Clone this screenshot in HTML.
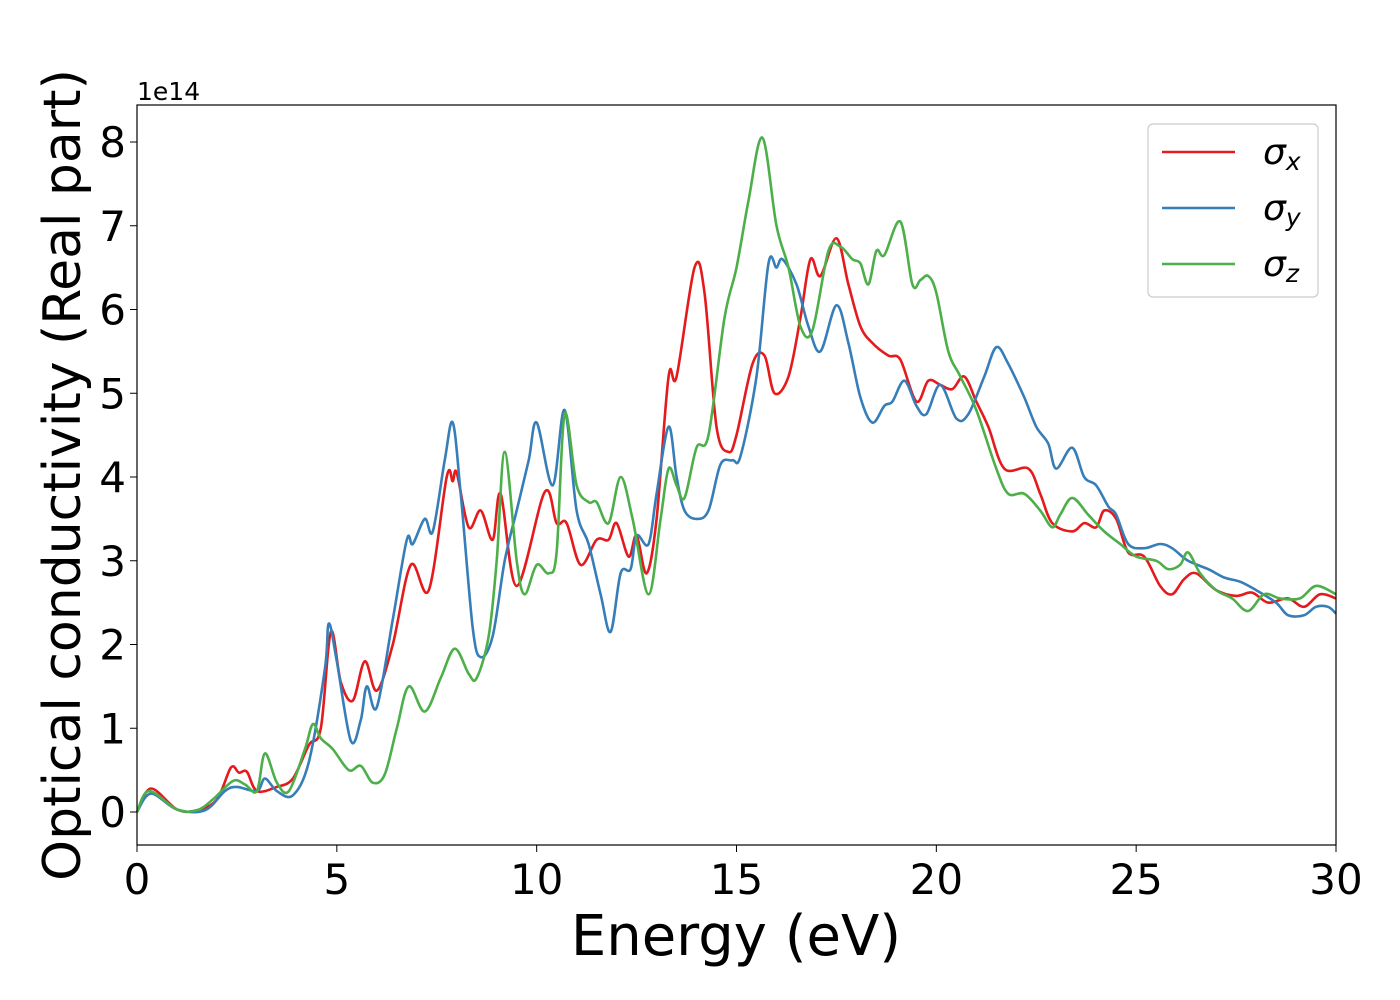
<!DOCTYPE html>
<html><head><meta charset="utf-8"><style>
html,body{margin:0;padding:0;background:#fff;}
svg{display:block;font-family:"DejaVu Sans","Liberation Sans",sans-serif;}
</style></head><body>
<svg id="chart" width="1400" height="1000" viewBox="0 0 1400 1000" xmlns="http://www.w3.org/2000/svg">
<g id="axes"></g>
<g id="series"></g>
<rect x="137" y="105" width="1199" height="740" fill="none" stroke="#000" stroke-width="1.2"/>
<text x="137" y="100" font-size="25">1e14</text>
<text x="736" y="955" font-size="56" text-anchor="middle">Energy (eV)</text>
<text transform="translate(80,475) rotate(-90)" font-size="52" text-anchor="middle">Optical conductivity (Real part)</text>
<g>
<rect x="1148" y="124" width="170" height="173" rx="5" fill="#fff" fill-opacity="0.8" stroke="#ccc" stroke-width="1.2"/>
<line x1="1162" y1="152" x2="1235" y2="152" stroke="#e41a1c" stroke-width="2.5"/>
<text x="1263" y="164" font-size="36" font-style="italic">σ<tspan font-size="25" dy="6">x</tspan></text>
<line x1="1162" y1="208" x2="1235" y2="208" stroke="#377eb8" stroke-width="2.5"/>
<text x="1263" y="220" font-size="36" font-style="italic">σ<tspan font-size="25" dy="6">y</tspan></text>
<line x1="1162" y1="264" x2="1235" y2="264" stroke="#4daf4a" stroke-width="2.5"/>
<text x="1263" y="276" font-size="36" font-style="italic">σ<tspan font-size="25" dy="6">z</tspan></text>
</g>
</svg>
<script>
const xTicks=[0,5,10,15,20,25,30];
const yTicks=[0,1,2,3,4,5,6,7,8];
const sxE=[0,0.35,1,1.5,2,2.35,2.55,2.75,3.0,3.5,3.9,4.3,4.6,4.85,5.1,5.4,5.7,6.0,6.4,6.85,7.3,7.75,7.9,8.0,8.3,8.6,8.9,9.1,9.5,10.2,10.5,10.75,11.1,11.5,11.8,12.0,12.3,12.5,12.75,13.0,13.3,13.5,13.95,14.2,14.5,14.8,15.0,15.4,15.7,15.95,16.3,16.6,16.85,17.1,17.5,17.8,18.1,18.4,18.8,19.1,19.5,19.8,20.1,20.4,20.7,21.0,21.3,21.7,22.3,22.6,22.9,23.4,23.7,24.0,24.2,24.5,24.8,25.2,25.6,25.9,26.2,26.5,27.0,27.5,27.9,28.3,28.8,29.2,29.6,30];
const sxV=[0,0.28,0.03,0.02,0.15,0.53,0.47,0.48,0.25,0.3,0.4,0.8,1.0,2.15,1.55,1.33,1.8,1.45,2.0,2.95,2.65,4.0,3.95,4.05,3.4,3.6,3.25,3.8,2.7,3.82,3.45,3.45,2.95,3.25,3.25,3.45,3.05,3.3,2.85,3.5,5.2,5.2,6.5,6.2,4.6,4.3,4.5,5.35,5.45,5.0,5.2,5.9,6.6,6.4,6.85,6.3,5.8,5.6,5.45,5.4,4.9,5.15,5.1,5.05,5.2,4.9,4.6,4.1,4.1,3.8,3.45,3.35,3.45,3.4,3.6,3.5,3.1,3.05,2.7,2.6,2.78,2.85,2.65,2.58,2.62,2.5,2.55,2.45,2.6,2.55];
const syE=[0,0.35,1,1.7,2.2,2.5,3.0,3.2,3.5,3.9,4.3,4.7,4.8,5.0,5.35,5.6,5.75,6.0,6.4,6.75,6.9,7.2,7.4,7.7,7.9,8.1,8.4,8.6,8.9,9.2,9.5,9.8,10.0,10.4,10.7,11.0,11.3,11.6,11.85,12.1,12.35,12.5,12.8,13.0,13.3,13.5,13.7,14.0,14.3,14.6,14.9,15.1,15.5,15.8,16.0,16.15,16.5,16.8,17.1,17.5,17.8,18.1,18.4,18.7,18.9,19.2,19.5,19.75,20.1,20.5,20.8,21.2,21.5,21.8,22.2,22.5,22.8,23.0,23.4,23.7,24.0,24.3,24.5,24.8,25.2,25.6,25.9,26.3,26.8,27.2,27.6,28.0,28.5,28.8,29.2,29.5,29.8,30];
const syV=[0,0.22,0.03,0.02,0.25,0.3,0.25,0.4,0.25,0.2,0.6,1.7,2.25,1.8,0.85,1.1,1.5,1.25,2.3,3.25,3.2,3.5,3.35,4.2,4.65,3.8,2.2,1.85,2.1,3.0,3.6,4.2,4.65,3.9,4.8,3.6,3.2,2.6,2.15,2.85,2.9,3.3,3.2,3.8,4.6,4.0,3.6,3.5,3.6,4.15,4.2,4.25,5.2,6.55,6.5,6.6,6.3,5.8,5.5,6.05,5.6,4.95,4.65,4.85,4.9,5.15,4.85,4.75,5.1,4.7,4.75,5.2,5.55,5.35,4.95,4.6,4.4,4.1,4.35,4.0,3.9,3.65,3.55,3.2,3.15,3.2,3.15,3.0,2.9,2.8,2.75,2.65,2.5,2.35,2.35,2.45,2.45,2.37];
const szE=[0,0.3,1,1.5,1.9,2.4,2.7,3.0,3.2,3.5,3.8,4.2,4.4,4.6,4.9,5.3,5.6,5.9,6.2,6.5,6.8,7.2,7.6,7.95,8.3,8.5,8.8,9.0,9.2,9.5,9.7,10.0,10.3,10.5,10.7,11.0,11.3,11.5,11.8,12.1,12.4,12.8,13.1,13.3,13.5,13.7,14.0,14.3,14.7,15.0,15.3,15.65,16.0,16.3,16.6,16.9,17.3,17.6,17.9,18.1,18.3,18.5,18.7,19.1,19.4,19.6,19.8,20.0,20.3,20.6,21.0,21.5,21.8,22.2,22.6,22.9,23.1,23.4,23.8,24.2,24.6,25.0,25.5,25.8,26.1,26.3,26.6,27.0,27.4,27.8,28.2,28.6,29.1,29.5,30];
const szV=[0,0.25,0.03,0.02,0.15,0.37,0.33,0.25,0.7,0.35,0.25,0.75,1.05,0.88,0.75,0.5,0.55,0.35,0.45,1.0,1.5,1.2,1.6,1.95,1.65,1.6,2.1,3.0,4.3,3.0,2.6,2.95,2.85,3.1,4.75,3.9,3.7,3.7,3.45,4.0,3.5,2.6,3.5,4.1,3.9,3.75,4.35,4.5,5.9,6.5,7.3,8.05,7.0,6.5,5.8,5.75,6.7,6.75,6.6,6.55,6.3,6.7,6.65,7.05,6.3,6.35,6.4,6.2,5.5,5.2,4.8,4.1,3.8,3.8,3.6,3.4,3.55,3.75,3.55,3.35,3.2,3.05,3.0,2.9,2.95,3.1,2.85,2.65,2.55,2.4,2.6,2.55,2.55,2.7,2.6];

const NS='http://www.w3.org/2000/svg';
const X0=137,X1=1336,Y0=812,YU=83.75;
function xs(e){return X0+(e/30)*(X1-X0);}
function ys(v){return Y0-v*YU;}
const axes=document.getElementById('axes');
xTicks.forEach(t=>{
  const l=document.createElementNS(NS,'line');
  
  
  l.setAttribute('x1',xs(t));l.setAttribute('x2',xs(t));l.setAttribute('y1',845);l.setAttribute('y2',852);l.setAttribute('stroke','#000');
  axes.appendChild(l);
  const tx=document.createElementNS(NS,'text');
  
  
  tx.setAttribute('x',xs(t));tx.setAttribute('y',894);tx.setAttribute('font-size','42');tx.setAttribute('text-anchor','middle');
  tx.textContent=t;axes.appendChild(tx);
});
yTicks.forEach(t=>{
  const l=document.createElementNS(NS,'line');
  
  
  l.setAttribute('x1',130);l.setAttribute('x2',137);l.setAttribute('y1',ys(t));l.setAttribute('y2',ys(t));l.setAttribute('stroke','#000');
  axes.appendChild(l);
  const tx=document.createElementNS(NS,'text');
  
  
  tx.setAttribute('x',126);tx.setAttribute('y',ys(t)+15);tx.setAttribute('font-size','42');tx.setAttribute('text-anchor','end');
  tx.textContent=t;axes.appendChild(tx);
});
function smooth(E,V){
  const p=E.map((e,i)=>[xs(e),ys(V[i])]);
  let d='M'+p[0][0].toFixed(1)+','+p[0][1].toFixed(1);
  for(let i=0;i<p.length-1;i++){
    const a=p[Math.max(0,i-1)],b=p[i],c=p[i+1],n=p[Math.min(p.length-1,i+2)];
    const c1=[b[0]+(c[0]-a[0])/6,b[1]+(c[1]-a[1])/6];
    const c2=[c[0]-(n[0]-b[0])/6,c[1]-(n[1]-b[1])/6];
    d+='C'+c1[0].toFixed(1)+','+c1[1].toFixed(1)+' '+c2[0].toFixed(1)+','+c2[1].toFixed(1)+' '+c[0].toFixed(1)+','+c[1].toFixed(1);
  }
  return d;
}
const sg=document.getElementById('series');
[[sxE,sxV,'#e41a1c','line-sigma-x'],[syE,syV,'#377eb8','line-sigma-y'],[szE,szV,'#4daf4a','line-sigma-z']].forEach(s=>{
  const path=document.createElementNS(NS,'path');
  
  
  path.setAttribute('d',smooth(s[0],s[1]));
  path.setAttribute('fill','none');path.setAttribute('stroke',s[2]);path.setAttribute('stroke-width','2.6');
  sg.appendChild(path);
});
</script>
</body></html>
